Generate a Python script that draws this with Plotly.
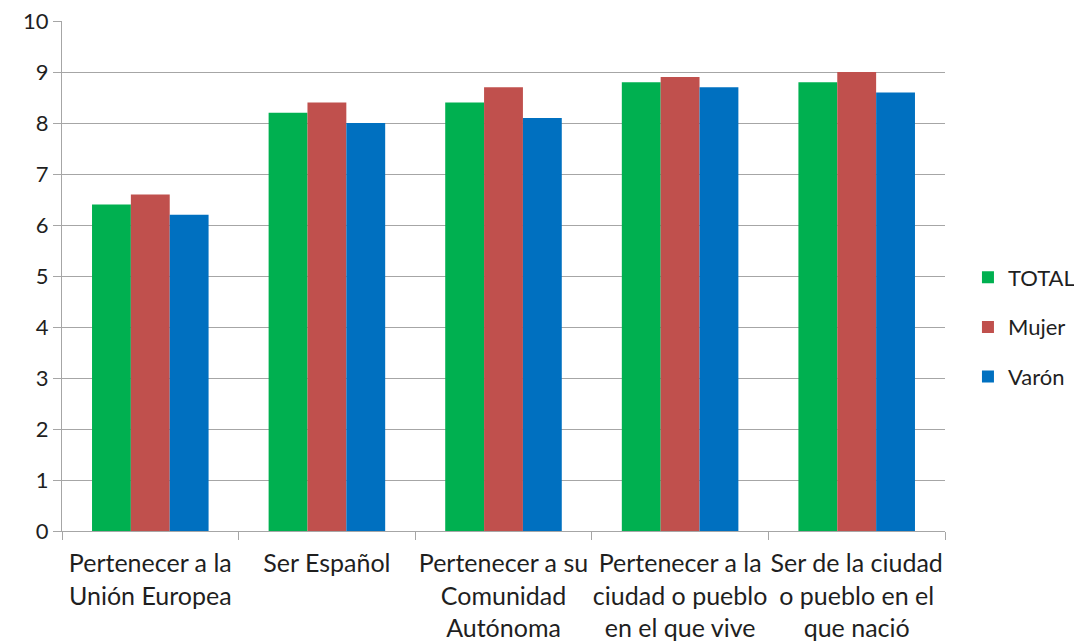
import plotly.graph_objects as go

# --- données ---
categorias = [
    "Pertenecer a la<br>Unión Europea",
    "Ser Español",
    "Pertenecer a su<br>Comunidad<br>Autónoma",
    "Pertenecer a la<br>ciudad o pueblo<br>en el que vive",
    "Ser de la ciudad<br>o pueblo en el<br>que nació",
]
total = [6.4, 8.2, 8.4, 8.8, 8.8]
mujer = [6.6, 8.4, 8.7, 8.9, 9.0]
varon = [6.2, 8.0, 8.1, 8.7, 8.6]

series = [
    ("TOTAL", total, "#00B050"),
    ("Mujer", mujer, "#C0504D"),
    ("Varón", varon, "#0070C0"),
]

GRIS = "#A6A6A6"
TEXTO = "#1F1F1F"

fig = go.Figure()
for nom, vals, col in series:
    fig.add_trace(go.Bar(
        x=categorias, y=vals, name=nom, legendgroup=nom,
        marker=dict(color=col, line=dict(width=0)),
    ))

fig.update_layout(
    width=1082, height=644,
    barmode="group", bargap=0.34, bargroupgap=0,
    plot_bgcolor="white", paper_bgcolor="white",
    font=dict(family="Lato, Liberation Sans, sans-serif", size=24, color=TEXTO),
    margin=dict(l=54, r=145, t=13, b=121, autoexpand=False),
    legend=dict(
        x=1.026, xanchor="left", y=0.4, yanchor="middle",
        traceorder="grouped", tracegroupgap=18,
        font=dict(size=22), itemwidth=30,
    ),
)
fig.update_xaxes(
    showline=True, linecolor=GRIS, linewidth=1,
    ticks="outside", tickson="boundaries", ticklen=8, tickcolor=GRIS,
    showgrid=False, tickangle=0, ticklabelstandoff=10,
    tickfont=dict(size=25),
)
fig.update_yaxes(
    range=[0, 10], dtick=1,
    showline=True, linecolor=GRIS, linewidth=1,
    showgrid=True, gridcolor=GRIS, gridwidth=1,
    ticks="outside", ticklen=8, tickcolor=GRIS,
    zeroline=False, ticklabeloverflow="allow",
    tickfont=dict(size=22),
)

fig.write_html("out.html")
